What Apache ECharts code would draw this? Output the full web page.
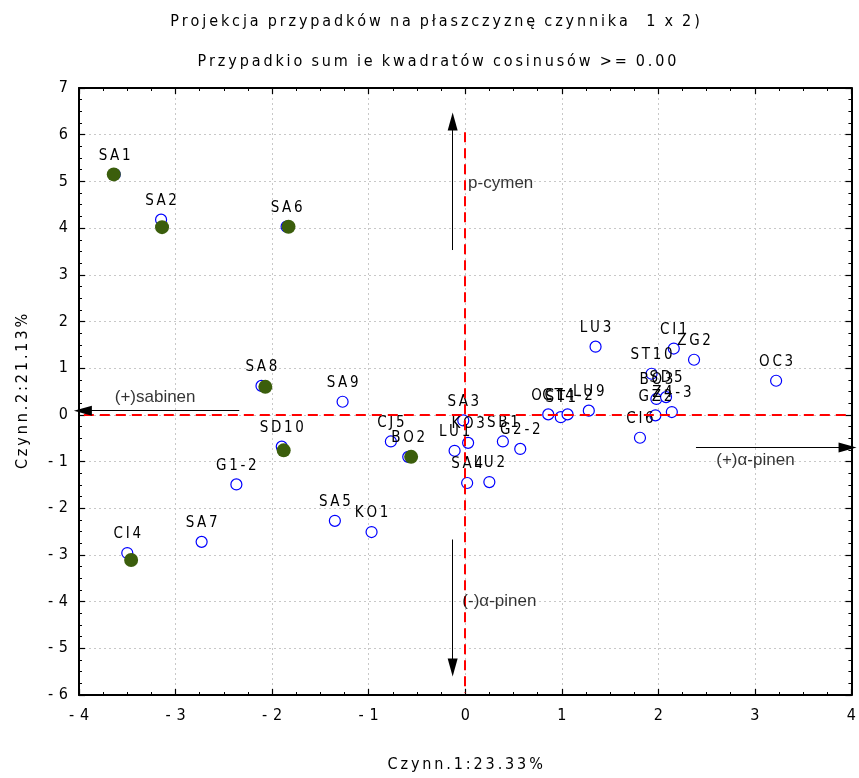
<!DOCTYPE html>
<html>
<head>
<meta charset="utf-8">
<script src="https://cdn.jsdelivr.net/npm/echarts@6/dist/echarts.min.js"></script>
<style>
  html, body { margin: 0; padding: 0; background: #fff; width: 100%; height: 100%; overflow: hidden; }
  #chart { width: 100vw; height: 100vh; }
</style>
</head>
<body>
<div id="chart"></div>
<script>
// Case projections on the factor plane (factor 1 x factor 2)
const caseNames = ['SA1','SA2','SA6','SA8','SA9','SD10','G1-2','CJ5','BO2','SA5','KO1','SA7','CI4',
  'SA3','KO3','LU1','SB1','G2-2','SA4','LU2','OC1','ST1','CT4-2','LU9','LU3','CI1','ZG2','ST10',
  'BO3','SD5','GZ2','Z4-3','CI6','OC3'];
const factor1 = [-3.63,-3.15,-1.85,-2.11,-1.27,-1.90,-2.37,-0.77,-0.59,-1.35,-0.97,-2.73,-3.50,
  -0.02,0.03,-0.11,0.39,0.57,0.02,0.25,0.86,0.99,1.06,1.28,1.35,2.16,2.37,1.93,
  1.98,2.08,1.97,2.14,1.81,3.22];
const factor2 = [5.15,4.18,4.03,0.62,0.28,-0.68,-1.49,-0.57,-0.90,-2.27,-2.51,-2.72,-2.96,
  -0.12,-0.60,-0.77,-0.57,-0.73,-1.46,-1.44,0.01,-0.05,0.01,0.09,1.46,1.42,1.18,0.88,
  0.34,0.38,-0.01,0.06,-0.49,0.73];

// Highlighted (filled) cases
const activeNames = ['SA1','SA2','SA6','SA8','SD10','BO2','CI4'];
const activeF1 = [-3.64,-3.14,-1.83,-2.07,-1.88,-0.56,-3.46];
const activeF2 = [5.15,4.02,4.03,0.60,-0.76,-0.90,-3.11];

// Interpretation arrows: [x1, y1, x2, y2]
const arrowNames = ['p-cymen', '(+)sabinen', '(+)α-pinen', '(-)α-pinen'];
const arrowLines = [
  [-0.13, 3.53, -0.13, 6.28],
  [-2.34, 0.09, -3.96, 0.09],
  [2.39, -0.70, 3.96, -0.70],
  [-0.13, -2.67, -0.13, -5.41]
];
const arrowTextX = [0.03, -3.63, 2.60, -0.03];
const arrowTextY = [4.96, 0.38, -0.97, -4.00];

const xTicks = [-4,-3,-2,-1,0,1,2,3,4];
const yTicks = [-6,-5,-4,-3,-2,-1,0,1,2,3,4,5,6,7];

const THIN = '\u2009';
const spaced = s => s.split('').join(THIN);
// words separated by wider gaps, letters by thin gaps
const spacedTitle = s => s.split(' ').map(w => w.split('').join(THIN)).join('  ');
const narrow = "'Liberation Sans Narrow', 'DejaVu Sans Condensed', 'Liberation Sans', sans-serif";
const tickFmt = v => String(v).replace('-', '-' + THIN + THIN);

const chart = echarts.init(document.getElementById('chart'));

const frameAxis = (pos, isX, showLabels) => ({
  type: 'value',
  position: pos,
  min: isX ? xTicks[0] : yTicks[0],
  max: isX ? xTicks[xTicks.length - 1] : yTicks[yTicks.length - 1],
  interval: 1,
  axisLine: { show: true, onZero: false, lineStyle: { color: '#000', width: 2 } },
  axisTick: { show: true, inside: true, length: 6, lineStyle: { color: '#000', width: 1.2 } },
  minorTick: { show: true, splitNumber: 4, length: 3, lineStyle: { color: '#000', width: 1 } },
  splitLine: { show: showLabels, lineStyle: { color: '#c8c8c8', type: [2, 3], width: 1 } },
  axisLabel: showLabels ? {
    show: true, color: '#000', fontFamily: narrow, fontSize: 16, margin: isX ? 13 : 11,
    formatter: tickFmt
  } : { show: false }
});

const xAxisMain = frameAxis('bottom', true, true);
xAxisMain.name = spaced('Czynn.1:23.33%');
xAxisMain.nameLocation = 'middle';
xAxisMain.nameGap = 62;
xAxisMain.nameTextStyle = { color: '#000', fontFamily: narrow, fontSize: 16 };
const yAxisMain = frameAxis('left', false, true);
yAxisMain.name = spaced('Czynn.2:21.13%');
yAxisMain.nameLocation = 'middle';
yAxisMain.nameGap = 48;
yAxisMain.nameTextStyle = { color: '#000', fontFamily: narrow, fontSize: 16 };

const xTop = frameAxis('top', true, false);
const yRight = frameAxis('right', false, false);

const option = {
  animation: false,
  backgroundColor: '#fff',
  title: [
    { text: spacedTitle('Projekcja przypadków na płaszczyznę czynnika  1 x 2)'),
      left: 430, top: 9, textAlign: 'center',
      textStyle: { fontFamily: narrow, fontSize: 16, fontWeight: 'normal', color: '#000' } },
    { text: spacedTitle('Przypadkio sum ie kwadratów cosinusów >= 0.00'),
      left: 432, top: 49, textAlign: 'center',
      textStyle: { fontFamily: narrow, fontSize: 16, fontWeight: 'normal', color: '#000' } }
  ],
  grid: { left: 79, right: 0, top: 88, bottom: 74, containLabel: false },
  xAxis: [xAxisMain, xTop],
  yAxis: [yAxisMain, yRight],
  series: [
    {
      // reference lines through the origin
      type: 'scatter', data: [], silent: true,
      markLine: {
        silent: true, symbol: ['none', 'none'], animation: false,
        lineStyle: { color: '#ff0000', width: 2, type: [10, 6] },
        label: { show: false },
        data: [
          [{ coord: [0, 6.05] }, { coord: [0, -5.95] }],
          [{ coord: [-3.95, 0] }, { coord: [4, 0] }]
        ]
      }
    },
    {
      type: 'scatter', data: [], silent: true,
      markLine: {
        silent: true, animation: false,
        symbol: ['none', 'triangle'], symbolSize: [10, 18],
        lineStyle: { color: '#000', width: 1, type: 'solid' },
        itemStyle: { color: '#000' },
        label: { show: false },
        data: arrowLines.map(a => [{ coord: [a[0], a[1]] }, { coord: [a[2], a[3]] }])
      }
    },
    {
      name: 'cases', type: 'scatter', z: 3,
      symbol: 'circle', symbolSize: 11,
      itemStyle: { color: '#fff', borderColor: '#0000ff', borderWidth: 1.2, opacity: 1 },
      label: {
        show: true, position: 'top', distance: 5,
        fontFamily: narrow, fontSize: 15, color: '#000',
        formatter: p => spaced(p.name)
      },
      data: caseNames.map((n, i) => ({ name: n, value: [factor1[i], factor2[i]] }))
    },
    {
      name: 'highlighted', type: 'scatter', z: 4,
      symbol: 'circle', symbolSize: 14,
      itemStyle: { color: '#3b5e0c', opacity: 1 },
      data: activeNames.map((n, i) => ({ name: n, value: [activeF1[i], activeF2[i]] }))
    },
    {
      name: 'arrowText', type: 'scatter', z: 5, symbolSize: 0, silent: true,
      label: {
        show: true, position: 'right', distance: 0,
        fontFamily: "'Liberation Sans', Arial, sans-serif", fontSize: 17, color: '#000',
        formatter: p => p.name
      },
      data: arrowNames.map((n, i) => ({ name: n, value: [arrowTextX[i], arrowTextY[i]] }))
    }
  ]
};

chart.setOption(option);
window.addEventListener('resize', () => chart.resize());
</script>
</body>
</html>
